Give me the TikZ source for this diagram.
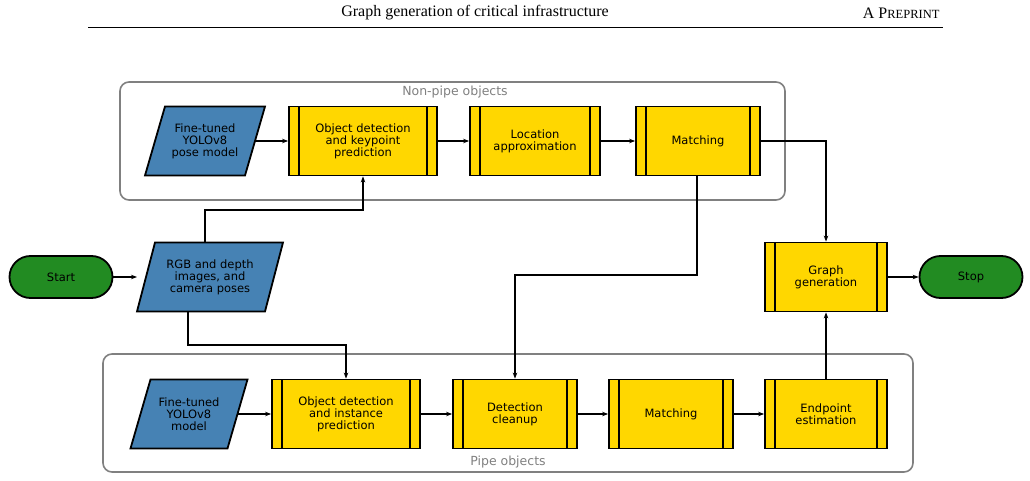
\documentclass[tikz,border=0pt]{standalone}
\usepackage{fontspec}
\setmainfont{DejaVu Sans}
\newfontfamily\headfont{Liberation Serif}
\usetikzlibrary{arrows.meta}
\definecolor{pblue}{HTML}{4682B4}
\definecolor{pyel}{HTML}{FFD700}
\definecolor{pgreen}{HTML}{228B22}
\definecolor{pgray}{HTML}{808080}
\newcommand{\parag}[4]{% cx cy halfwidth slant ; height 69
  \filldraw[fill=pblue,draw=black,line width=1.8pt,line join=miter]
   (#1-#3-#4/2,#2+34.5) -- (#1-#3+#4/2,#2-34.5) -- (#1+#3+#4/2,#2-34.5) -- (#1+#3-#4/2,#2+34.5) -- cycle;}
\begin{document}
\begin{tikzpicture}[x=1pt,y=-1pt,
  every node/.style={font=\fontsize{11.5}{12}\selectfont,align=center},
  proc/.style={draw=black,line width=1.8pt,fill=pyel,minimum height=69pt,inner sep=0pt,
    path picture={\draw[line width=1.8pt] ([xshift=10pt]path picture bounding box.north west)--([xshift=10pt]path picture bounding box.south west);
    \draw[line width=1.8pt] ([xshift=-10pt]path picture bounding box.north east)--([xshift=-10pt]path picture bounding box.south east);}},
  io/.style={inner sep=0pt,minimum height=69pt},
  term/.style={draw=black,line width=1.8pt,fill=pgreen,rounded corners=21pt,minimum width=103pt,minimum height=42pt},
  grp/.style={draw=pgray,line width=1.6pt,rounded corners=9pt},
  arr/.style={line width=1.6pt,-{Stealth[length=6pt,width=4.5pt]}}]
\useasboundingbox (0,0) rectangle (1030,481);
\node[font=\headfont\fontsize{16}{18}\selectfont] (h1) at (475,13) {Graph generation of critical infrastructure};
\node[font=\headfont\fontsize{16}{18}\selectfont,anchor=east] (h2) at (943,13) {A P{\fontsize{12.5}{14}\selectfont REPRINT}};
\draw[line width=0.6pt] (88,27) -- (943,27);
% groups
\draw[grp] (120,82) rectangle (785,200);
\node[text=pgray,font=\fontsize{12.5}{13}\selectfont] (t1) at (455,92) {Non-pipe objects};
\draw[grp] (103,354) rectangle (913,472);
\node[text=pgray,font=\fontsize{12.5}{13}\selectfont] (t2) at (508,462) {Pipe objects};
% parallelograms
\parag{205}{141}{50}{20}
\parag{210}{277}{64}{18}
\parag{189}{414}{48.5}{20}
% top row
\node[io,minimum width=97pt] (ft1) at (205,141) {Fine-tuned\\YOLOv8\\pose model};
\node[proc,minimum width=148pt] (od1) at (363,141) {Object detection\\and keypoint\\prediction};
\node[proc,minimum width=130pt] (la) at (535,141) {Location\\approximation};
\node[proc,minimum width=124pt] (m1) at (698,141) {Matching};
% middle
\node[term] (start) at (61,277) {Start};
\node[io,minimum width=110pt] (rgb) at (210,277) {RGB and depth\\images, and\\camera poses};
\node[proc,minimum width=122pt] (gg) at (826,277) {Graph\\generation};
\node[term] (stop) at (971,277) {Stop};
% bottom row
\node[io,minimum width=88pt] (ft2) at (189,414) {Fine-tuned\\YOLOv8\\model};
\node[proc,minimum width=148pt] (od2) at (346,414) {Object detection\\and instance\\prediction};
\node[proc,minimum width=124pt] (dc) at (515,414) {Detection\\cleanup};
\node[proc,minimum width=124pt] (m2) at (671,414) {Matching};
\node[proc,minimum width=122pt] (ee) at (826,414) {Endpoint\\estimation};
% connectors
\draw[arr] (255,141) -- (od1.west);
\draw[arr] (od1) -- (la);
\draw[arr] (la) -- (m1);
\draw[arr] (start) -- (137,277);
\draw[arr] (gg) -- (stop);
\draw[arr] (238,414) -- (od2.west);
\draw[arr] (od2) -- (dc);
\draw[arr] (dc) -- (m2);
\draw[arr] (m2) -- (ee);
\draw[arr] (ee) -- (gg);
\draw[arr] (m1.east) -| (gg.north);
\draw[arr] ([xshift=-5pt]rgb.north) |- (363,210) -- (od1.south);
\draw[arr] ([xshift=-22pt]rgb.south) |- (346,345) -- (od2.north);
\draw[arr] (697,176) |- (515,275) -- (dc.north);
\end{tikzpicture}
\end{document}
